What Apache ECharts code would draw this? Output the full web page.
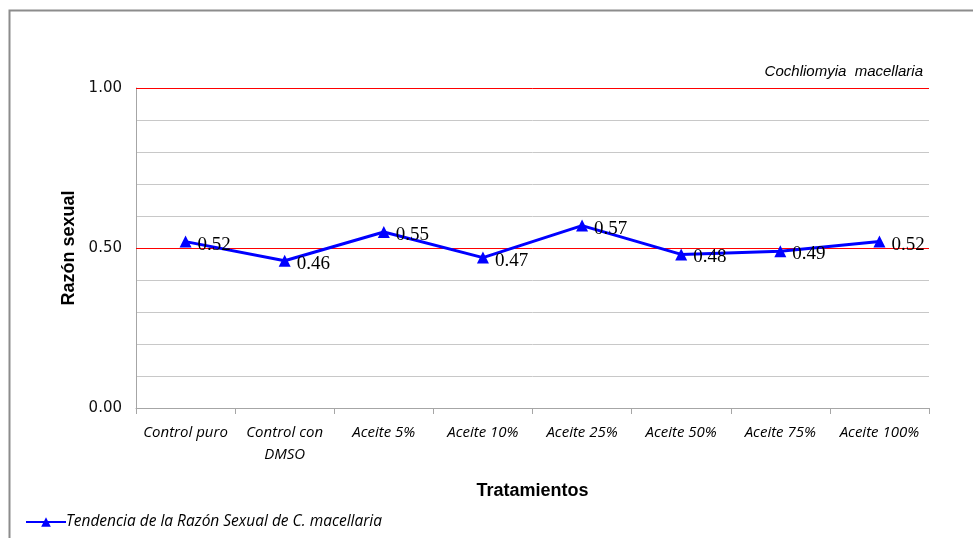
<!DOCTYPE html>
<html>
<head>
<meta charset="utf-8">
<script src="https://cdn.jsdelivr.net/npm/echarts@6/dist/echarts.min.js"></script>
<style>html,body{margin:0;padding:0;background:#fff;}#c{width:973px;height:538px;}</style>
</head>
<body>
<div id="c"></div>
<script>
var categories = ['Control puro', 'Control con\nDMSO', 'Aceite 5%', 'Aceite 10%', 'Aceite 25%', 'Aceite 50%', 'Aceite 75%', 'Aceite 100%'];
var values = [0.52, 0.46, 0.55, 0.47, 0.57, 0.48, 0.49, 0.52];
var seriesName = 'Tendencia de la Razón Sexual de C. macellaria';
var yTickLabels = [0, 0.5, 1.0];
var refLines = [0.5, 1.0];

var chart = echarts.init(document.getElementById('c'));
chart.setOption({
  animation: false,
  backgroundColor: '#fff',
  graphic: [{
    type: 'rect', silent: true, z: -1,
    shape: { x: 9.5, y: 10.5, width: 1000, height: 600 },
    style: { fill: 'none', stroke: '#8c8c8c', lineWidth: 2 }
  }, {
    type: 'text', right: 50, top: 64,
    style: { text: 'Cochliomyia  macellaria', font: 'italic 15px "Liberation Sans", Arial, sans-serif', fill: '#000' }
  }],
  grid: { left: 136, right: 44, top: 88, bottom: 130, containLabel: false },
  legend: {
    left: 20, top: 509, itemWidth: 40, itemHeight: 12, itemGap: 2,
    data: [{ name: seriesName }],
    textStyle: { fontFamily: '"Open Sans", "Noto Sans", sans-serif', fontStyle: 'italic', fontSize: 15.5, color: '#000', padding: [0,0,0,-5] }
  },
  xAxis: {
    type: 'category', data: categories, boundaryGap: true,
    name: 'Tratamientos', nameLocation: 'middle', nameGap: 74,
    nameTextStyle: { fontFamily: '"Liberation Sans", Arial, sans-serif', fontWeight: 'bold', fontSize: 18, color: '#000' },
    axisLine: { lineStyle: { color: '#a6a6a6', width: 1 } },
    axisTick: { show: true, alignWithLabel: false, length: 6, lineStyle: { color: '#a6a6a6' } },
    axisLabel: { interval: 0, margin: 14, fontFamily: '"Open Sans", "Noto Sans", sans-serif', fontStyle: 'italic', fontSize: 15, color: '#000', lineHeight: 22 }
  },
  yAxis: {
    type: 'value', min: 0, max: 1, interval: 0.1,
    name: 'Razón sexual', nameLocation: 'middle', nameGap: 58,
    nameTextStyle: { fontFamily: '"Liberation Sans", Arial, sans-serif', fontWeight: 'bold', fontSize: 18, color: '#000' },
    axisLine: { show: true, lineStyle: { color: '#a6a6a6', width: 1 } },
    axisTick: { show: false },
    splitLine: { show: true, lineStyle: { color: '#c8c8c8', width: 1 } },
    axisLabel: {
      margin: 14, fontFamily: '"DejaVu Sans", Verdana, sans-serif', fontSize: 15, color: '#111',
      formatter: function (v) {
        for (var i = 0; i < yTickLabels.length; i++) {
          if (Math.abs(v - yTickLabels[i]) < 1e-6) return v.toFixed(2);
        }
        return '';
      }
    }
  },
  series: [{
    name: seriesName, type: 'line', data: values,
    symbol: 'triangle', symbolSize: 12,
    itemStyle: { color: '#0000ff' },
    lineStyle: { color: '#0000ff', width: 3 },
    label: {
      show: true, position: 'right', distance: 6, offset: [0, 3],
      fontFamily: '"Liberation Serif", "Times New Roman", serif', fontSize: 19, color: '#000',
      formatter: function (p) { return p.value.toFixed(2); }
    },
    z: 5,
    markLine: {
      silent: true, symbol: 'none', label: { show: false },
      lineStyle: { color: '#ff0000', type: 'solid', width: 1 },
      z: 1,
      data: refLines.map(function (v) { return { yAxis: v }; })
    }
  }]
});
</script>
</body>
</html>
